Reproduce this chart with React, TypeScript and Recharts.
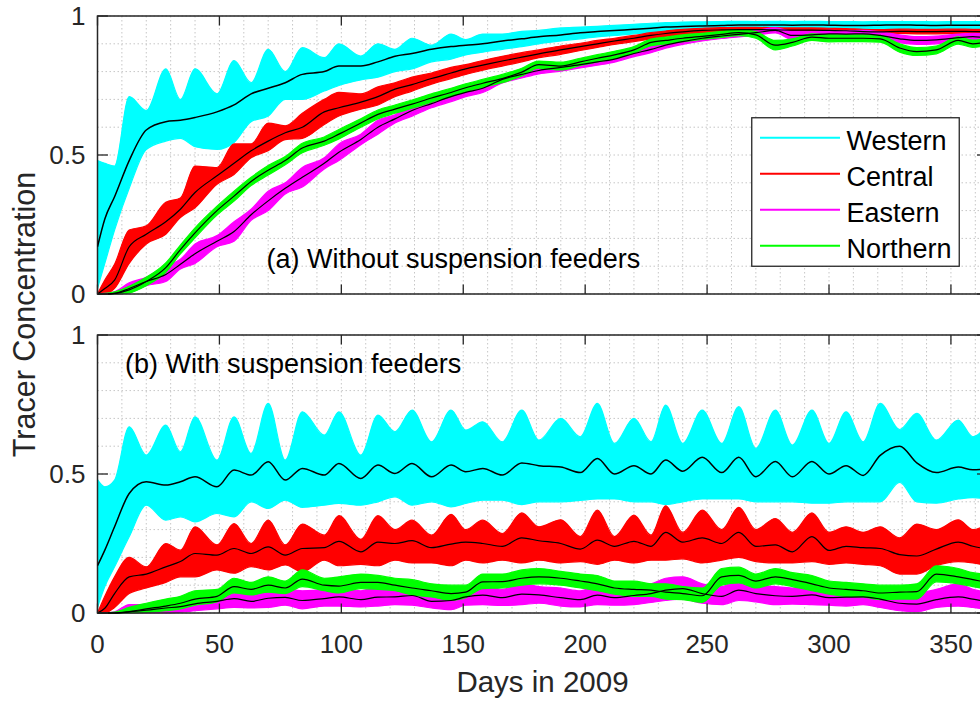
import React from "react";
import {
  Area,
  CartesianGrid,
  ComposedChart,
  Legend,
  Line,
  ReferenceArea,
  XAxis,
  YAxis,
} from "recharts";

const FONT = '"Liberation Sans", Arial, Helvetica, sans-serif';
const AXIS = "#262626";

// sample days (spring / neap turning points of the tidal envelope)
const days = [
  0, 3, 7, 13, 20, 28, 34, 40, 49, 56,
  63, 70, 77, 84, 93, 99, 108, 115, 122, 129,
  137, 145, 151, 158, 166, 174, 181, 190, 198, 205,
  212, 220, 227, 233, 240, 248, 256, 263, 270, 278,
  285, 293, 300, 307, 314, 321, 329, 336, 344, 353,
  359, 365,
];

const gridDays = [
  0, 10, 20, 30, 40, 50, 60, 70, 80, 90, 100, 110, 120, 130, 140, 150, 160, 170, 180,
  190, 200, 210, 220, 230, 240, 250, 260, 270, 280, 290, 300, 310, 320, 330, 340, 350, 360,
];
const labelDays = [0, 50, 100, 150, 200, 250, 300, 350];
const levelTicks = [0, 0.1, 0.2, 0.3, 0.4, 0.5, 0.6, 0.7, 0.8, 0.9, 1];
const labelLevels = ["0", "0.5", "1"];

const regionNames = ["Western", "Central", "Eastern", "Northern"];
const regionColors = ["#00ffff", "#ff0000", "#ff00ff", "#00ff00"];

// (a) without suspension feeders
const westA_mid = [
  0.17, 0.27, 0.35, 0.48, 0.59, 0.62, 0.625, 0.635, 0.655, 0.68,
  0.72, 0.74, 0.76, 0.79, 0.8, 0.82, 0.82, 0.835, 0.855, 0.865,
  0.88, 0.89, 0.895, 0.9, 0.91, 0.918, 0.925, 0.932, 0.94, 0.944,
  0.948, 0.952, 0.956, 0.96, 0.962, 0.964, 0.966, 0.968, 0.968, 0.968,
  0.967, 0.968, 0.967, 0.966, 0.966, 0.967, 0.968, 0.967, 0.966, 0.967,
  0.967, 0.967,
];
const westA_hi = [
  0.48, 0.47, 0.46, 0.71, 0.66, 0.81, 0.7, 0.81, 0.72, 0.84,
  0.76, 0.88, 0.8, 0.886, 0.85, 0.9, 0.856, 0.9, 0.88, 0.92,
  0.895, 0.935, 0.915, 0.935, 0.935, 0.945, 0.948, 0.957, 0.96, 0.963,
  0.966, 0.97, 0.974, 0.976, 0.978, 0.979, 0.98, 0.981, 0.98, 0.981,
  0.98, 0.981, 0.98, 0.98, 0.979, 0.98, 0.98, 0.98, 0.979, 0.98,
  0.98, 0.98,
];
const westA_lo = [
  0.02, 0.11, 0.23, 0.38, 0.52, 0.55, 0.56, 0.53, 0.52, 0.545,
  0.62, 0.64, 0.7, 0.7, 0.73, 0.75, 0.77, 0.78, 0.8, 0.81,
  0.835, 0.845, 0.86, 0.87, 0.88, 0.89, 0.9, 0.91, 0.918, 0.925,
  0.93, 0.936, 0.94, 0.945, 0.948, 0.95, 0.952, 0.954, 0.954, 0.955,
  0.954, 0.955, 0.954, 0.953, 0.953, 0.954, 0.955, 0.954, 0.953, 0.954,
  0.954, 0.954,
];

const centA_mid = [
  0, 0.02, 0.05, 0.17, 0.215, 0.26, 0.305, 0.365, 0.425, 0.47,
  0.515, 0.55, 0.58, 0.6, 0.655, 0.67, 0.69, 0.71, 0.737, 0.753,
  0.775, 0.795, 0.81, 0.823, 0.838, 0.852, 0.864, 0.878, 0.89, 0.9,
  0.91, 0.92, 0.93, 0.937, 0.943, 0.948, 0.95, 0.951, 0.951, 0.95,
  0.949, 0.949, 0.948, 0.947, 0.944, 0.943, 0.945, 0.944, 0.944, 0.945,
  0.944, 0.944,
];
const centA_hi = [
  0, 0.05, 0.107, 0.23, 0.245, 0.33, 0.345, 0.46, 0.455, 0.54,
  0.54, 0.615, 0.605, 0.65, 0.7, 0.725, 0.72, 0.745, 0.76, 0.78,
  0.795, 0.815, 0.825, 0.84, 0.855, 0.868, 0.878, 0.892, 0.902, 0.912,
  0.92, 0.93, 0.94, 0.946, 0.952, 0.956, 0.958, 0.959, 0.959, 0.958,
  0.957, 0.957, 0.956, 0.955, 0.952, 0.951, 0.953, 0.952, 0.952, 0.953,
  0.952, 0.952,
];
const centA_lo = [
  0, 0, 0.02, 0.11, 0.18, 0.215, 0.275, 0.31, 0.395, 0.43,
  0.49, 0.515, 0.555, 0.56, 0.61, 0.64, 0.665, 0.68, 0.71, 0.73,
  0.755, 0.775, 0.79, 0.805, 0.82, 0.835, 0.85, 0.862, 0.876, 0.887,
  0.898, 0.908, 0.918, 0.927, 0.933, 0.94, 0.942, 0.943, 0.943, 0.942,
  0.941, 0.941, 0.94, 0.939, 0.936, 0.935, 0.937, 0.936, 0.936, 0.937,
  0.936, 0.936,
];

const eastA_mid = [
  0, 0, 0.002, 0.02, 0.045, 0.07, 0.107, 0.145, 0.19, 0.225,
  0.285, 0.335, 0.38, 0.42, 0.47, 0.51, 0.556, 0.6, 0.63, 0.66,
  0.685, 0.71, 0.725, 0.74, 0.772, 0.79, 0.804, 0.815, 0.825, 0.835,
  0.845, 0.865, 0.88, 0.895, 0.908, 0.92, 0.928, 0.934, 0.94, 0.948,
  0.93, 0.932, 0.936, 0.935, 0.936, 0.93, 0.918, 0.912, 0.914, 0.922,
  0.926, 0.92,
];
const eastA_hi = [
  0, 0.002, 0.008, 0.04, 0.06, 0.1, 0.125, 0.18, 0.21, 0.26,
  0.305, 0.37, 0.4, 0.455, 0.49, 0.54, 0.575, 0.625, 0.645, 0.68,
  0.7, 0.728, 0.74, 0.755, 0.785, 0.803, 0.816, 0.828, 0.837, 0.847,
  0.856, 0.876, 0.892, 0.906, 0.918, 0.93, 0.937, 0.943, 0.949, 0.957,
  0.945, 0.945, 0.948, 0.947, 0.948, 0.943, 0.932, 0.926, 0.928, 0.935,
  0.938, 0.933,
];
const eastA_lo = [
  0, 0, 0, 0.005, 0.03, 0.045, 0.09, 0.11, 0.17, 0.19,
  0.265, 0.3, 0.36, 0.385, 0.45, 0.48, 0.537, 0.575, 0.615, 0.64,
  0.67, 0.692, 0.71, 0.725, 0.759, 0.777, 0.792, 0.802, 0.813, 0.823,
  0.834, 0.854, 0.868, 0.884, 0.898, 0.91, 0.919, 0.925, 0.931, 0.939,
  0.915, 0.919, 0.924, 0.923, 0.924, 0.917, 0.904, 0.898, 0.9, 0.909,
  0.914, 0.907,
];

const northA_mid = [
  0, 0, 0.002, 0.015, 0.045, 0.095, 0.16, 0.22, 0.3, 0.352,
  0.405, 0.445, 0.48, 0.525, 0.55, 0.575, 0.615, 0.646, 0.665, 0.683,
  0.705, 0.725, 0.742, 0.758, 0.775, 0.798, 0.825, 0.82, 0.835, 0.848,
  0.86, 0.878, 0.905, 0.912, 0.92, 0.927, 0.934, 0.94, 0.932, 0.895,
  0.905, 0.924, 0.92, 0.92, 0.92, 0.918, 0.885, 0.872, 0.878, 0.912,
  0.9, 0.908,
];
const northA_hi = [
  0, 0.002, 0.008, 0.028, 0.06, 0.112, 0.176, 0.238, 0.316, 0.37,
  0.42, 0.462, 0.495, 0.542, 0.565, 0.592, 0.63, 0.662, 0.68, 0.698,
  0.72, 0.74, 0.756, 0.772, 0.79, 0.812, 0.838, 0.834, 0.848, 0.861,
  0.873, 0.89, 0.917, 0.924, 0.932, 0.938, 0.945, 0.951, 0.944, 0.912,
  0.918, 0.936, 0.933, 0.932, 0.932, 0.93, 0.9, 0.886, 0.892, 0.925,
  0.913, 0.92,
];
const northA_lo = [
  0, 0, 0, 0.004, 0.03, 0.078, 0.144, 0.202, 0.284, 0.334,
  0.39, 0.428, 0.465, 0.508, 0.535, 0.558, 0.6, 0.63, 0.65, 0.668,
  0.69, 0.71, 0.728, 0.744, 0.76, 0.784, 0.812, 0.806, 0.822, 0.835,
  0.847, 0.866, 0.893, 0.9, 0.908, 0.916, 0.923, 0.929, 0.92, 0.878,
  0.892, 0.912, 0.907, 0.908, 0.908, 0.906, 0.87, 0.858, 0.864, 0.899,
  0.887, 0.896,
];

// (b) with suspension feeders
const westB_mid = [
  0.17, 0.226, 0.31, 0.43, 0.472, 0.46, 0.472, 0.49, 0.454, 0.514,
  0.496, 0.544, 0.478, 0.52, 0.496, 0.538, 0.484, 0.532, 0.502, 0.538,
  0.49, 0.532, 0.508, 0.52, 0.496, 0.54, 0.53, 0.525, 0.505, 0.556,
  0.5, 0.53, 0.5, 0.55, 0.51, 0.56, 0.505, 0.56, 0.49, 0.545,
  0.49, 0.545, 0.5, 0.53, 0.495, 0.567, 0.6, 0.54, 0.505, 0.525,
  0.515, 0.52,
];
const westB_hi = [
  0.48, 0.454, 0.478, 0.67, 0.568, 0.676, 0.58, 0.706, 0.55, 0.706,
  0.574, 0.754, 0.55, 0.724, 0.64, 0.724, 0.568, 0.712, 0.652, 0.73,
  0.616, 0.73, 0.658, 0.688, 0.616, 0.73, 0.622, 0.7, 0.634, 0.754,
  0.61, 0.7, 0.616, 0.748, 0.61, 0.73, 0.61, 0.742, 0.592, 0.73,
  0.604, 0.73, 0.61, 0.724, 0.616, 0.754, 0.66, 0.718, 0.622, 0.694,
  0.634, 0.68,
];
const westB_lo = [
  0.02, 0.095, 0.166, 0.274, 0.388, 0.334, 0.346, 0.328, 0.358, 0.346,
  0.4, 0.376, 0.406, 0.38, 0.388, 0.394, 0.388, 0.4, 0.418, 0.388,
  0.4, 0.382, 0.394, 0.406, 0.406, 0.39, 0.4, 0.4, 0.405, 0.41,
  0.41, 0.4, 0.4, 0.39, 0.4, 0.41, 0.41, 0.41, 0.4, 0.4,
  0.4, 0.395, 0.395, 0.4, 0.4, 0.4, 0.47, 0.4, 0.395, 0.41,
  0.415, 0.41,
];

const centB_mid = [
  0, 0.017, 0.07, 0.13, 0.14, 0.166, 0.185, 0.214, 0.208, 0.232,
  0.214, 0.238, 0.208, 0.232, 0.235, 0.258, 0.22, 0.255, 0.25, 0.26,
  0.235, 0.248, 0.255, 0.25, 0.24, 0.27, 0.26, 0.25, 0.23, 0.262,
  0.24, 0.258, 0.24, 0.29, 0.255, 0.27, 0.25, 0.29, 0.24, 0.245,
  0.22, 0.275, 0.225, 0.24, 0.235, 0.232, 0.21, 0.205, 0.23, 0.255,
  0.24, 0.23,
];
const centB_hi = [
  0, 0.06, 0.13, 0.2, 0.166, 0.25, 0.226, 0.31, 0.245, 0.322,
  0.25, 0.334, 0.245, 0.32, 0.28, 0.35, 0.265, 0.35, 0.3, 0.334,
  0.28, 0.355, 0.3, 0.334, 0.286, 0.36, 0.31, 0.335, 0.275, 0.37,
  0.275, 0.352, 0.28, 0.385, 0.29, 0.37, 0.3, 0.38, 0.3, 0.34,
  0.29, 0.36, 0.29, 0.31, 0.29, 0.31, 0.27, 0.32, 0.3, 0.335,
  0.3, 0.32,
];
const centB_lo = [
  0, 0, 0.02, 0.07, 0.09, 0.11, 0.13, 0.13, 0.155, 0.143,
  0.167, 0.155, 0.173, 0.148, 0.19, 0.17, 0.175, 0.17, 0.19, 0.18,
  0.18, 0.17, 0.19, 0.18, 0.19, 0.18, 0.19, 0.18, 0.185, 0.175,
  0.19, 0.18, 0.19, 0.19, 0.195, 0.18, 0.19, 0.2, 0.185, 0.18,
  0.18, 0.185, 0.175, 0.18, 0.175, 0.17, 0.14, 0.14, 0.17, 0.185,
  0.18, 0.17,
];

const eastB_mid = [
  0, 0, 0, 0.004, 0.01, 0.018, 0.023, 0.033, 0.042, 0.052,
  0.042, 0.053, 0.056, 0.045, 0.052, 0.058, 0.048, 0.057, 0.058, 0.063,
  0.042, 0.045, 0.058, 0.064, 0.055, 0.068, 0.065, 0.055, 0.048, 0.064,
  0.055, 0.063, 0.07, 0.082, 0.088, 0.07, 0.06, 0.082, 0.07, 0.062,
  0.06, 0.065, 0.055, 0.057, 0.058, 0.05, 0.035, 0.032, 0.048, 0.058,
  0.05, 0.04,
];
const eastB_hi = [
  0, 0, 0.004, 0.03, 0.03, 0.045, 0.045, 0.065, 0.07, 0.085,
  0.072, 0.09, 0.085, 0.08, 0.085, 0.095, 0.08, 0.095, 0.09, 0.105,
  0.075, 0.085, 0.09, 0.1, 0.085, 0.105, 0.095, 0.09, 0.08, 0.1,
  0.085, 0.1, 0.105, 0.125, 0.13, 0.105, 0.095, 0.12, 0.1, 0.095,
  0.09, 0.1, 0.085, 0.09, 0.088, 0.082, 0.065, 0.07, 0.085, 0.105,
  0.085, 0.075,
];
const eastB_lo = [
  0, 0, 0, 0, 0, 0, 0.003, 0.008, 0.015, 0.02,
  0.018, 0.02, 0.028, 0.015, 0.025, 0.025, 0.022, 0.025, 0.03, 0.028,
  0.018, 0.012, 0.028, 0.03, 0.027, 0.03, 0.035, 0.025, 0.022, 0.03,
  0.028, 0.03, 0.038, 0.045, 0.05, 0.035, 0.03, 0.045, 0.04, 0.03,
  0.032, 0.03, 0.028, 0.025, 0.03, 0.02, 0.008, 0.005, 0.02, 0.025,
  0.02, 0.012,
];

const northB_mid = [
  0, 0, 0, 0.005, 0.015, 0.025, 0.035, 0.05, 0.06, 0.095,
  0.085, 0.1, 0.09, 0.122, 0.1, 0.097, 0.11, 0.11, 0.1, 0.09,
  0.08, 0.07, 0.075, 0.112, 0.113, 0.125, 0.13, 0.125, 0.115, 0.105,
  0.09, 0.085, 0.082, 0.075, 0.07, 0.062, 0.13, 0.135, 0.115, 0.13,
  0.12, 0.105, 0.09, 0.085, 0.08, 0.072, 0.075, 0.077, 0.14, 0.13,
  0.12, 0.11,
];
const northB_hi = [
  0, 0, 0.003, 0.02, 0.035, 0.05, 0.06, 0.08, 0.085, 0.125,
  0.11, 0.13, 0.115, 0.155, 0.125, 0.13, 0.14, 0.135, 0.125, 0.12,
  0.105, 0.1, 0.1, 0.14, 0.14, 0.155, 0.16, 0.15, 0.14, 0.135,
  0.115, 0.115, 0.105, 0.105, 0.095, 0.09, 0.16, 0.165, 0.14, 0.16,
  0.145, 0.135, 0.115, 0.11, 0.105, 0.1, 0.1, 0.105, 0.17, 0.16,
  0.145, 0.14,
];
const northB_lo = [
  0, 0, 0, 0, 0.002, 0.008, 0.015, 0.028, 0.04, 0.072,
  0.065, 0.075, 0.07, 0.095, 0.08, 0.072, 0.088, 0.085, 0.08, 0.065,
  0.058, 0.045, 0.055, 0.088, 0.09, 0.1, 0.105, 0.1, 0.09, 0.08,
  0.068, 0.06, 0.06, 0.05, 0.048, 0.038, 0.1, 0.108, 0.09, 0.105,
  0.095, 0.08, 0.068, 0.06, 0.058, 0.048, 0.05, 0.05, 0.112, 0.105,
  0.095, 0.085,
];

type Series = { lo: number[]; mid: number[]; hi: number[] };

const panelA: Series[] = [
  { lo: westA_lo, mid: westA_mid, hi: westA_hi },
  { lo: centA_lo, mid: centA_mid, hi: centA_hi },
  { lo: eastA_lo, mid: eastA_mid, hi: eastA_hi },
  { lo: northA_lo, mid: northA_mid, hi: northA_hi },
];
const panelB: Series[] = [
  { lo: westB_lo, mid: westB_mid, hi: westB_hi },
  { lo: centB_lo, mid: centB_mid, hi: centB_hi },
  { lo: eastB_lo, mid: eastB_mid, hi: eastB_hi },
  { lo: northB_lo, mid: northB_mid, hi: northB_hi },
];

function toRows(series: Series[]) {
  return days.map((day, i) => {
    const row: Record<string, number | number[]> = { day };
    series.forEach((s, k) => {
      row[`band${k}`] = [s.lo[i], s.hi[i]];
      row[`mean${k}`] = s.mid[i];
    });
    return row;
  });
}

const PLOT_LEFT = 97.5;
const PLOT_RIGHT = 987.5;
const CHART_W = 1000;
const TICK_LEN = 9.5;

type Geo = { top: number; bottom: number };

function LegendBox() {
  return (
    <svg width={209} height={150} style={{ display: "block" }}>
      <rect x={0.75} y={0.75} width={207.5} height={148.5} fill="#fff" stroke={AXIS} strokeWidth={1.3} />
      {regionNames.map((name, i) => {
        const y = 20.7 + i * 36;
        return (
          <g key={name}>
            <line x1={9} x2={89} y1={y} y2={y} stroke={regionColors[i]} strokeWidth={2} />
            <text x={95.5} y={y + 12.3} fontSize={27} fontFamily={FONT} fill="#000">
              {name}
            </text>
          </g>
        );
      })}
    </svg>
  );
}

function Panel({
  series,
  top,
  height,
  marginTop,
  axisHeight,
  dayLabels,
  legend,
}: {
  series: Series[];
  top: number;
  height: number;
  marginTop: number;
  axisHeight: number;
  dayLabels: boolean;
  legend: boolean;
}) {
  const rows = toRows(series);
  const geo: Geo = { top: marginTop, bottom: height - axisHeight };

  const xTick = (props: any) => {
    const { x, payload } = props;
    const v = payload.value as number;
    if (!labelDays.includes(v)) return <g />;
    return (
      <g>
        <line x1={x} x2={x} y1={geo.bottom} y2={geo.bottom - TICK_LEN} stroke={AXIS} strokeWidth={1.3} />
        <line x1={x} x2={x} y1={geo.top} y2={geo.top + TICK_LEN} stroke={AXIS} strokeWidth={1.3} />
        {dayLabels && (
          <text x={x} y={geo.bottom + 40} textAnchor="middle" fontSize={26} fontFamily={FONT} fill={AXIS}>
            {v}
          </text>
        )}
      </g>
    );
  };

  const yTick = (props: any) => {
    const { y, payload } = props;
    const label = String(payload.value);
    if (!labelLevels.includes(label)) return <g />;
    return (
      <g>
        <line x1={PLOT_LEFT} x2={PLOT_LEFT + TICK_LEN + 1} y1={y} y2={y} stroke={AXIS} strokeWidth={1.3} />
        <line x1={PLOT_RIGHT} x2={PLOT_RIGHT - TICK_LEN - 1} y1={y} y2={y} stroke={AXIS} strokeWidth={1.3} />
        <text x={PLOT_LEFT - 12} y={y} dy="0.36em" textAnchor="end" fontSize={26} fontFamily={FONT} fill={AXIS}>
          {label}
        </text>
      </g>
    );
  };

  return (
    <div style={{ position: "absolute", left: 0, top }}>
      <ComposedChart
        width={CHART_W}
        height={height}
        data={rows}
        margin={{ top: marginTop, right: CHART_W - PLOT_RIGHT, bottom: 0, left: 0 }}
      >
        <CartesianGrid stroke="#c6c6c6" strokeDasharray="1.5 2.5" strokeWidth={1} />
        <XAxis
          dataKey="day"
          type="number"
          domain={[0, 365]}
          ticks={gridDays}
          interval={0}
          height={axisHeight}
          axisLine={false}
          tickLine={false}
          tick={xTick}
          allowDataOverflow
        />
        <YAxis
          type="number"
          domain={[0, 1]}
          ticks={levelTicks}
          interval={0}
          width={PLOT_LEFT}
          axisLine={false}
          tickLine={false}
          tick={yTick}
        />
        {series.map((_, k) => (
          <Area
            key={`band${k}`}
            type="monotone"
            dataKey={`band${k}`}
            stroke={regionColors[k]}
            strokeWidth={1.2}
            fill={regionColors[k]}
            fillOpacity={1}
            dot={false}
            activeDot={false}
            isAnimationActive={false}
          />
        ))}
        {series.map((_, k) => (
          <Line
            key={`mean${k}`}
            type="monotone"
            dataKey={`mean${k}`}
            stroke="#000"
            strokeWidth={k === 0 ? 1.5 : 1.2}
            dot={false}
            activeDot={false}
            isAnimationActive={false}
          />
        ))}
        <ReferenceArea
          x1={0}
          x2={365}
          y1={0}
          y2={1}
          fill="none"
          stroke={AXIS}
          strokeWidth={1.5}
          ifOverflow="visible"
        />
        {legend && (
          <Legend
            layout="vertical"
            align="center"
            verticalAlign="middle"
            wrapperStyle={{ left: 751, top: 117, width: 209, height: 150 }}
            content={() => <LegendBox />}
          />
        )}
      </ComposedChart>
    </div>
  );
}

export default function App() {
  return (
    <div
      style={{
        position: "absolute",
        left: 0,
        top: 0,
        width: 980,
        height: 702,
        overflow: "hidden",
        background: "#fff",
        fontFamily: FONT,
      }}
    >
      <Panel series={panelA} top={0} height={312} marginTop={16} axisHeight={18} dayLabels={false} legend />
      <Panel series={panelB} top={320} height={382} marginTop={15} axisHeight={89} dayLabels legend={false} />
      <svg
        width={980}
        height={702}
        style={{ position: "absolute", left: 0, top: 0, pointerEvents: "none" }}
        fontFamily={FONT}
      >
        <text x={266.5} y={268} fontSize={27} fill="#000">
          (a) Without suspension feeders
        </text>
        <text x={125} y={373} fontSize={27} fill="#000">
          (b) With suspension feeders
        </text>
        <text x={542.5} y={692} fontSize={29.5} textAnchor="middle" fill={AXIS}>
          Days in 2009
        </text>
        <text
          transform="translate(35, 314.5) rotate(-90)"
          fontSize={30.5}
          textAnchor="middle"
          fill={AXIS}
        >
          Tracer Concentration
        </text>
      </svg>
    </div>
  );
}
